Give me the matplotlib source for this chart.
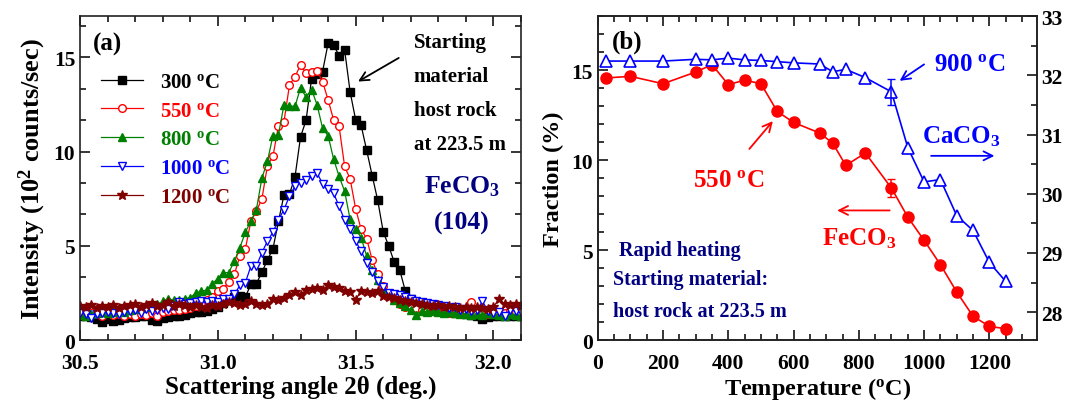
import numpy as np
import matplotlib
matplotlib.use('Agg')
import matplotlib.pyplot as plt
from matplotlib.ticker import MultipleLocator, AutoMinorLocator

plt.rcParams['font.family'] = 'Liberation Serif'
plt.rcParams['font.weight'] = 'bold'
plt.rcParams['axes.labelweight'] = 'bold'
plt.rcParams['mathtext.fontset'] = 'custom'
plt.rcParams['mathtext.rm'] = 'Liberation Serif:bold'
plt.rcParams['mathtext.bf'] = 'Liberation Serif:bold'
plt.rcParams['mathtext.it'] = 'Liberation Serif:bold:italic'
plt.rcParams['axes.linewidth'] = 1.2
plt.rcParams['axes.edgecolor'] = '#222222'

DEG = '$^{\\rm o}$C'
NAVY = '#000080'

# XRD scan of the FeCO3 (104) peak, 0.02 deg steps
two_theta = np.round(np.arange(30.50, 32.101, 0.02), 2)

i300 = [1.30, 1.25, 1.20, 1.10, 0.95, 1.10, 1.00, 1.05, 1.15, 1.20,
        1.20, 1.25, 1.28, 1.05, 1.00, 1.15, 1.20, 1.28, 1.30, 1.35,
        1.45, 1.48, 1.50, 1.55, 1.65, 1.75, 1.95, 2.10, 2.30, 2.35,
        2.30, 2.95, 3.00, 3.60, 4.25, 4.85, 6.30, 7.70, 7.75, 8.66,
        10.78, 11.66, 13.85, 14.10, 14.25, 15.75, 15.66, 15.10, 15.40, 13.17,
        11.69, 11.39, 10.07, 8.73, 7.42, 5.75, 4.99, 4.14, 3.72, 2.61,
        2.20, 1.90, 1.75, 1.70, 1.60, 1.55, 1.55, 1.50, 1.45, 1.45,
        1.40, 1.35, 1.30, 1.10, 1.20, 1.25, 1.25, 1.30, 1.25, 1.30,
        1.30]
i550 = [1.45, 1.50, 1.45, 1.40, 1.30, 1.45, 1.35, 1.40, 1.30, 1.40,
        1.30, 1.40, 1.35, 1.45, 1.30, 1.50, 1.55, 1.60, 1.60, 1.65,
        1.70, 1.80, 1.95, 2.10, 2.30, 2.60, 2.73, 3.08, 3.49, 4.46,
        4.85, 6.31, 6.84, 7.50, 9.26, 9.75, 11.38, 11.60, 13.54, 13.98,
        14.60, 14.16, 14.25, 14.30, 13.72, 12.75, 11.69, 11.34, 9.22, 8.55,
        6.97, 5.87, 5.38, 4.25, 3.49, 2.87, 2.40, 2.10, 1.90, 1.75,
        1.70, 1.68, 1.60, 1.55, 1.60, 1.50, 1.55, 1.45, 1.50, 1.45,
        1.50, 2.00, 1.45, 1.50, 1.40, 1.45, 1.50, 1.45, 1.55, 1.50,
        1.45]
i800 = [1.35, 1.30, 1.40, 1.45, 1.50, 1.45, 1.50, 1.55, 1.50, 1.60,
        1.65, 1.70, 1.75, 1.85, 1.90, 2.05, 2.20, 2.10, 2.15, 2.20,
        2.25, 2.50, 2.60, 2.65, 3.00, 3.26, 3.58, 3.58, 4.20, 4.90,
        5.73, 6.31, 6.93, 8.60, 9.49, 10.85, 10.90, 12.49, 12.43, 12.40,
        13.40, 12.90, 13.30, 12.49, 11.25, 10.85, 9.61, 8.69, 7.90, 6.40,
        5.90, 5.43, 4.46, 3.72, 3.19, 2.73, 2.50, 2.10, 1.95, 1.80,
        1.60, 1.35, 1.55, 1.50, 1.55, 1.50, 1.45, 1.50, 1.45, 1.40,
        1.40, 1.35, 1.40, 1.35, 1.45, 1.40, 1.35, 1.30, 1.40, 1.35,
        1.30]
i1000 = [1.45, 1.40, 1.15, 1.40, 1.45, 1.50, 1.45, 1.40, 1.50, 1.55,
         1.60, 1.45, 1.65, 1.55, 1.60, 1.70, 1.65, 1.80, 2.00, 1.90,
         1.95, 2.00, 2.05, 2.00, 2.05, 2.00, 2.20, 2.20, 2.43, 2.90,
         3.05, 3.93, 3.93, 4.64, 5.25, 5.73, 6.37, 6.93, 7.64, 8.17,
         8.34, 8.47, 8.69, 8.87, 8.30, 8.03, 7.80, 7.10, 6.37, 5.87,
         5.25, 4.72, 4.11, 3.61, 3.14, 2.79, 2.52, 2.45, 2.40, 2.30,
         2.20, 2.05, 2.00, 1.95, 1.90, 1.85, 1.80, 1.70, 1.75, 1.60,
         1.65, 1.55, 1.60, 2.05, 1.55, 1.45, 1.50, 1.30, 1.60, 1.55,
         1.50]
i1200 = [1.80, 1.75, 1.85, 1.70, 1.80, 1.75, 1.85, 1.70, 1.80, 1.85,
         1.90, 1.75, 1.85, 1.95, 1.80, 1.85, 2.00, 1.80, 1.90, 1.85,
         1.75, 1.85, 1.75, 1.70, 1.85, 1.80, 1.90, 2.00, 1.95, 1.85,
         1.90, 2.05, 1.90, 1.85, 1.90, 2.20, 2.10, 2.25, 2.40, 2.55,
         2.40, 2.65, 2.70, 2.75, 2.65, 2.90, 2.80, 2.75, 2.60, 2.55,
         2.15, 2.60, 2.55, 2.50, 2.60, 2.35, 2.30, 2.25, 2.15, 2.05,
         2.00, 1.95, 1.90, 1.85, 1.80, 1.85, 1.75, 1.80, 1.75, 1.70,
         1.75, 1.70, 1.75, 1.70, 1.65, 1.75, 2.20, 1.90, 1.85, 1.90,
         1.80]

# phase fractions vs annealing temperature
temps = [25, 100, 200, 300, 350, 400, 450, 500, 550, 600, 680, 720, 760, 820,
         900, 950, 1000, 1050, 1100, 1150, 1200, 1250]
feco3 = [14.56, 14.65, 14.24, 14.89, 15.30, 14.19, 14.44, 14.24, 12.70, 12.09,
         11.50, 10.94, 9.70, 10.39, 8.44, 6.83, 5.54, 4.19, 2.67, 1.32, 0.76, 0.63]
caco3 = [32.24, 32.24, 32.24, 32.27, 32.26, 32.29, 32.26, 32.25, 32.23, 32.21,
         32.19, 32.06, 32.10, 31.96, 31.72, 30.78, 30.20, 30.24, 29.63, 29.38,
         28.84, 28.52]
err_idx = 14
feco3_err = 0.5
caco3_err = 0.22


def style_axis(ax):
    ax.tick_params(which='both', direction='in', labelsize=15.5, width=1.1)
    ax.tick_params(which='major', length=7)
    ax.tick_params(which='minor', length=4)
    ax.tick_params(axis='x', pad=9.5)


fig = plt.figure(figsize=(10.81, 4.06), dpi=100)

# ---------- (a) diffraction peaks ----------
axa = fig.add_axes([0.074, 0.160, 0.408, 0.798])
series = [
    (i300, '300 ' + DEG, 'k', 's', 'k'),
    (i550, '550 ' + DEG, '#ff0000', 'o', 'white'),
    (i800, '800 ' + DEG, '#008000', '^', '#008000'),
    (i1000, '1000 ' + DEG, '#0000ff', 'v', 'white'),
    (i1200, '1200 ' + DEG, '#800000', '*', '#800000'),
]
for vals, lab, c, m, fc in series:
    ms = 7.5 if m == '*' else 5.5
    axa.plot(two_theta, vals, color=c, lw=0.9, marker=m, ms=ms,
             mfc=fc, mec=c, mew=1.0, label=lab)

axa.set_xlim(30.5, 32.1)
axa.set_ylim(0, 17.2)
axa.xaxis.set_major_locator(MultipleLocator(0.5))
axa.xaxis.set_minor_locator(AutoMinorLocator(5))
axa.yaxis.set_major_locator(MultipleLocator(5))
axa.yaxis.set_minor_locator(AutoMinorLocator(3))
axa.xaxis.set_major_formatter(plt.FormatStrFormatter('%.1f'))
style_axis(axa)
axa.tick_params(which='both', top=True, right=True)
axa.set_xlabel('Scattering angle 2θ (deg.)', fontsize=18, labelpad=1)
axa.set_ylabel('Intensity (10$^2$ counts/sec)', fontsize=19, labelpad=4)

leg = axa.legend(loc='upper left', bbox_to_anchor=(0.025, 0.86), frameon=False,
                 fontsize=15, handlelength=2.0, handletextpad=0.8,
                 labelspacing=0.42, borderpad=0, labelcolor='linecolor')

axa.text(30.545, 15.75, '(a)', fontsize=18, va='center')
axa.text(31.71, 16.35, 'Starting\nmaterial\nhost rock\nat 223.5 m',
         fontsize=15, va='top', linespacing=1.94)
axa.annotate('', xy=(31.50, 13.65), xytext=(31.665, 15.05),
             arrowprops=dict(arrowstyle='->', lw=1.3, color='k', mutation_scale=16))
axa.text(31.885, 8.2, 'FeCO$_3$', color=NAVY, fontsize=18.5, ha='center', va='center')
axa.text(31.885, 6.24, '(104)', color=NAVY, fontsize=18.5, ha='center', va='center')

# ---------- (b) phase fractions ----------
axb = fig.add_axes([0.553, 0.160, 0.406, 0.798])
axr = axb.twinx()

axb.plot(temps, feco3, color='#ff0000', lw=1.2, marker='o', ms=8, mec='#ff0000')
axb.errorbar(temps[err_idx], feco3[err_idx], yerr=feco3_err, color='#ff0000',
             capsize=3, lw=1.1, fmt='none')
axr.plot(temps, caco3, color='#0000ff', lw=1.2, marker='^', ms=8.5, mfc='white',
         mec='#0000ff', mew=1.2)
axr.errorbar(temps[err_idx], caco3[err_idx], yerr=caco3_err, color='#0000ff',
             capsize=3, lw=1.1, fmt='none')

axb.set_xlim(0, 1345)
axb.set_ylim(0, 18)
axr.set_ylim(27.53, 33)
axb.xaxis.set_major_locator(MultipleLocator(200))
axb.xaxis.set_minor_locator(AutoMinorLocator(4))
axb.yaxis.set_major_locator(MultipleLocator(5))
axb.yaxis.set_minor_locator(AutoMinorLocator(5))
axr.yaxis.set_major_locator(MultipleLocator(1))
axr.yaxis.set_minor_locator(AutoMinorLocator(2))
style_axis(axb)
style_axis(axr)
axb.tick_params(which='both', top=True)
axb.set_xlabel('Temperature (' + DEG + ')', fontsize=17.5, labelpad=1)
axb.set_ylabel('Fraction (%)', fontsize=17.5, labelpad=5)

axb.text(43, 16.6, '(b)', fontsize=18, va='center')
axb.text(291, 8.9, '550 ' + DEG, color='#ff0000', fontsize=18, va='center')
axb.annotate('', xy=(temps[8] - 8, feco3[8] - 0.42), xytext=(459, 10.5),
             arrowprops=dict(arrowstyle='->', lw=1.3, color='#ff0000', mutation_scale=16))
axb.text(686, 5.7, 'FeCO$_3$', color='#ff0000', fontsize=18, va='center')
axb.annotate('', xy=(725, 7.2), xytext=(903, 7.2),
             arrowprops=dict(arrowstyle='->', lw=1.3, color='#ff0000', mutation_scale=16))

axr.text(1031, 32.2, '900 ' + DEG, color='#0000ff', fontsize=18, va='center')
axr.annotate('', xy=(918, 31.88), xytext=(1007, 32.21),
             arrowprops=dict(arrowstyle='->', lw=1.3, color='#0000ff', mutation_scale=16))
axr.text(995, 30.98, 'CaCO$_3$', color='#0000ff', fontsize=18, va='center')
axr.annotate('', xy=(1224, 30.64), xytext=(1013, 30.64),
             arrowprops=dict(arrowstyle='->', lw=1.3, color='#0000ff', mutation_scale=16))

axb.text(64, 5.0, 'Rapid heating', color=NAVY, fontsize=14.5, va='center')
axb.text(46, 3.4, 'Starting material:', color=NAVY, fontsize=14.5, va='center')
axb.text(46, 1.6, 'host rock at 223.5 m', color=NAVY, fontsize=14.5, va='center')

fig.savefig('out.png', dpi=100)
